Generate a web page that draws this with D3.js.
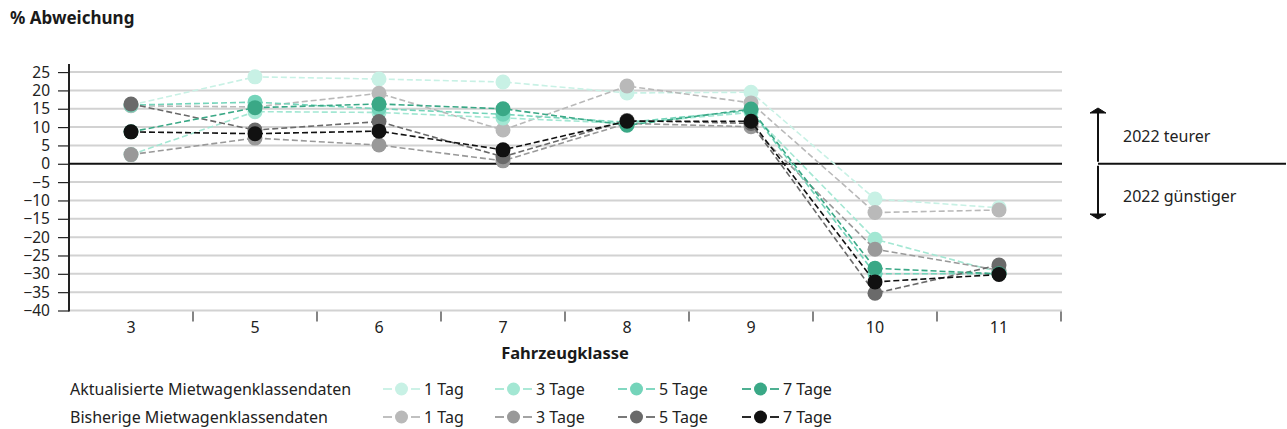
<!DOCTYPE html>
<html>
<head>
<meta charset="utf-8">
<script src="https://cdn.jsdelivr.net/npm/d3@7"></script>
<style>
  html, body { margin: 0; padding: 0; background: #fff; }
  svg { display: block; font-family: "Noto Sans", "Open Sans", sans-serif; }
</style>
</head>
<body>
<svg id="chart" width="1287" height="429"></svg>
<script>
// Fahrzeugklassen (x categories)
const categories = ["3", "5", "6", "7", "8", "9", "10", "11"];

// Aktualisierte Mietwagenklassendaten, % Abweichung
const aktual1Tag  = [16.0, 23.7, 23.1, 22.3, 19.3, 19.5,  -9.6, -12.0];
const aktual3Tage = [ 2.5, 14.2, 14.0, 12.5, 11.0, 14.0, -20.6, -29.5];
const aktual5Tage = [16.0, 16.8, 15.0, 13.5, 11.3, 14.5, -30.0, -30.0];
const aktual7Tage = [ 8.7, 15.3, 16.3, 15.0, 10.5, 14.9, -28.5, -30.0];

// Bisherige Mietwagenklassendaten, % Abweichung
const bisher1Tag  = [15.8, 15.5, 19.2,  9.2, 21.2, 16.6, -13.3, -12.6];
const bisher3Tage = [ 2.5,  7.0,  5.1,  0.8, 11.0, 10.1, -23.3, -29.0];
const bisher5Tage = [16.3,  9.2, 11.5,  1.9, 11.8, 11.0, -35.3, -27.6];
const bisher7Tage = [ 8.7,  8.2,  8.9,  3.8, 11.6, 11.6, -32.2, -30.2];

const yTicks = [25, 20, 15, 10, 5, 0, -5, -10, -15, -20, -25, -30, -35, -40];
const seriesLabels = ["1 Tag", "3 Tage", "5 Tage", "7 Tage"];
const groupLabels = ["Aktualisierte Mietwagenklassendaten", "Bisherige Mietwagenklassendaten"];

// Legend order (group rows, duration columns)
const series = [
  { group: 0, col: 0, label: seriesLabels[0], values: aktual1Tag,  color: "#c8f1e5" },
  { group: 0, col: 1, label: seriesLabels[1], values: aktual3Tage, color: "#a3e7d3" },
  { group: 0, col: 2, label: seriesLabels[2], values: aktual5Tage, color: "#74d4ba" },
  { group: 0, col: 3, label: seriesLabels[3], values: aktual7Tage, color: "#3aa886" },
  { group: 1, col: 0, label: seriesLabels[0], values: bisher1Tag,  color: "#b9b9b9" },
  { group: 1, col: 1, label: seriesLabels[1], values: bisher3Tage, color: "#999999" },
  { group: 1, col: 2, label: seriesLabels[2], values: bisher5Tage, color: "#6a6a6a" },
  { group: 1, col: 3, label: seriesLabels[3], values: bisher7Tage, color: "#111111" }
];
// Painting order: by duration, updated data first, previous data above it
const drawOrder = series.slice().sort((a, b) => a.col - b.col || a.group - b.group);

const svg = d3.select("#chart");
const plotLeft = 69, plotRight = 1061, plotTop = 64, plotBottom = 310.5;

const x = d3.scaleBand().domain(categories).range([plotLeft, plotRight]).padding(0);
const y = d3.scaleLinear().domain([-40, 27.2]).range([plotBottom, plotTop]);
const xc = c => x(c) + x.bandwidth() / 2;

// Title
svg.append("text").attr("x", 10).attr("y", 24)
  .attr("font-size", 17).attr("font-weight", "bold").attr("fill", "#1a1a1a")
  .text("% Abweichung");

// Gridlines
svg.append("g").selectAll("line").data(yTicks.filter(d => d !== 0)).join("line")
  .attr("x1", plotLeft).attr("x2", plotRight + 1)
  .attr("y1", d => y(d)).attr("y2", d => y(d))
  .attr("stroke", "#d2d2d2").attr("stroke-width", 2);

// Y axis
const yAxis = svg.append("g").attr("transform", `translate(${plotLeft},0)`)
  .call(d3.axisLeft(y).tickValues(yTicks).tickSize(11).tickPadding(8)
    .tickFormat(d => d < 0 ? "\u2212" + Math.abs(d) : d));
yAxis.select(".domain").remove();
yAxis.selectAll(".tick line").attr("stroke", "#222").attr("stroke-width", 1.2);
yAxis.selectAll(".tick text").attr("font-size", 15.5).attr("fill", "#222")
  .attr("font-family", "Noto Sans, sans-serif");
svg.append("line").attr("x1", plotLeft).attr("x2", plotLeft).attr("y1", plotTop).attr("y2", plotBottom + 1)
  .attr("stroke", "#222").attr("stroke-width", 2);

// X axis (tick marks at band boundaries)
svg.append("g").selectAll("line").data(categories).join("line")
  .attr("x1", d => x(d) + x.bandwidth())
  .attr("x2", d => x(d) + x.bandwidth())
  .attr("y1", plotBottom + 1).attr("y2", plotBottom + 11)
  .attr("stroke", "#333").attr("stroke-width", 1.2);
svg.append("g").selectAll("text").data(categories).join("text")
  .attr("x", d => xc(d)).attr("y", 333)
  .attr("text-anchor", "middle").attr("font-size", 16).attr("fill", "#222")
  .text(d => d);
svg.append("text").attr("x", (plotLeft + plotRight) / 2).attr("y", 359)
  .attr("text-anchor", "middle").attr("font-size", 16.5).attr("font-weight", "bold")
  .attr("fill", "#1a1a1a").text("Fahrzeugklasse");

// Zero line
svg.append("line").attr("x1", plotLeft).attr("x2", plotRight + 1).attr("y1", y(0)).attr("y2", y(0))
  .attr("stroke", "#111").attr("stroke-width", 2);

// Series lines and markers
const line = d3.line().x((d, i) => xc(categories[i])).y(d => y(d));
const gSeries = svg.append("g");
drawOrder.forEach(s => {
  const g = gSeries.append("g");
  g.append("path").attr("d", line(s.values)).attr("fill", "none")
    .attr("stroke", s.color).attr("stroke-width", 1.6).attr("stroke-dasharray", "6,3");
  g.selectAll("circle").data(s.values).join("circle")
    .attr("cx", (d, i) => xc(categories[i])).attr("cy", d => y(d))
    .attr("r", 7.5).attr("fill", s.color);
});

// Right annotation: arrows and labels
const ax = 1098;
svg.append("line").attr("x1", ax).attr("x2", 1286).attr("y1", y(0)).attr("y2", y(0))
  .attr("stroke", "#111").attr("stroke-width", 2);
const arrowTop = 108, arrowBottom = 219;
svg.append("line").attr("x1", ax).attr("x2", ax).attr("y1", arrowTop + 2).attr("y2", y(0) - 2)
  .attr("stroke", "#111").attr("stroke-width", 2);
svg.append("line").attr("x1", ax).attr("x2", ax).attr("y1", y(0) + 2).attr("y2", arrowBottom - 2)
  .attr("stroke", "#111").attr("stroke-width", 2);
svg.append("path").attr("d", `M${ax - 8},${arrowTop + 5} L${ax},${arrowTop} L${ax + 8},${arrowTop + 5} Z`)
  .attr("fill", "#111").attr("stroke", "#111").attr("stroke-width", 1);
svg.append("path").attr("d", `M${ax - 8},${arrowBottom - 5} L${ax},${arrowBottom} L${ax + 8},${arrowBottom - 5} Z`)
  .attr("fill", "#111").attr("stroke", "#111").attr("stroke-width", 1);
svg.append("text").attr("x", 1123).attr("y", 142).attr("font-size", 16).attr("fill", "#222")
  .text("2022 teurer");
svg.append("text").attr("x", 1123).attr("y", 202).attr("font-size", 16).attr("fill", "#222")
  .text("2022 günstiger");

// Legend
const legendRowsY = [389, 417];
const legendItemX = [383, 495, 618, 742];
groupLabels.forEach((gl, gi) => {
  svg.append("text").attr("x", 70).attr("y", legendRowsY[gi] + 5.5)
    .attr("font-size", 16).attr("fill", "#222").text(gl);
});
series.forEach(s => {
  const lx = legendItemX[s.col], ly = legendRowsY[s.group];
  const g = svg.append("g");
  g.append("line").attr("x1", lx).attr("x2", lx + 9).attr("y1", ly).attr("y2", ly)
    .attr("stroke", s.color).attr("stroke-width", 1.8);
  g.append("line").attr("x1", lx + 28).attr("x2", lx + 37).attr("y1", ly).attr("y2", ly)
    .attr("stroke", s.color).attr("stroke-width", 1.8);
  g.append("circle").attr("cx", lx + 18.5).attr("cy", ly).attr("r", 6.5).attr("fill", s.color);
  g.append("text").attr("x", lx + 41).attr("y", ly + 5.5).attr("font-size", 16)
    .attr("fill", "#222").text(s.label);
});
</script>
</body>
</html>
